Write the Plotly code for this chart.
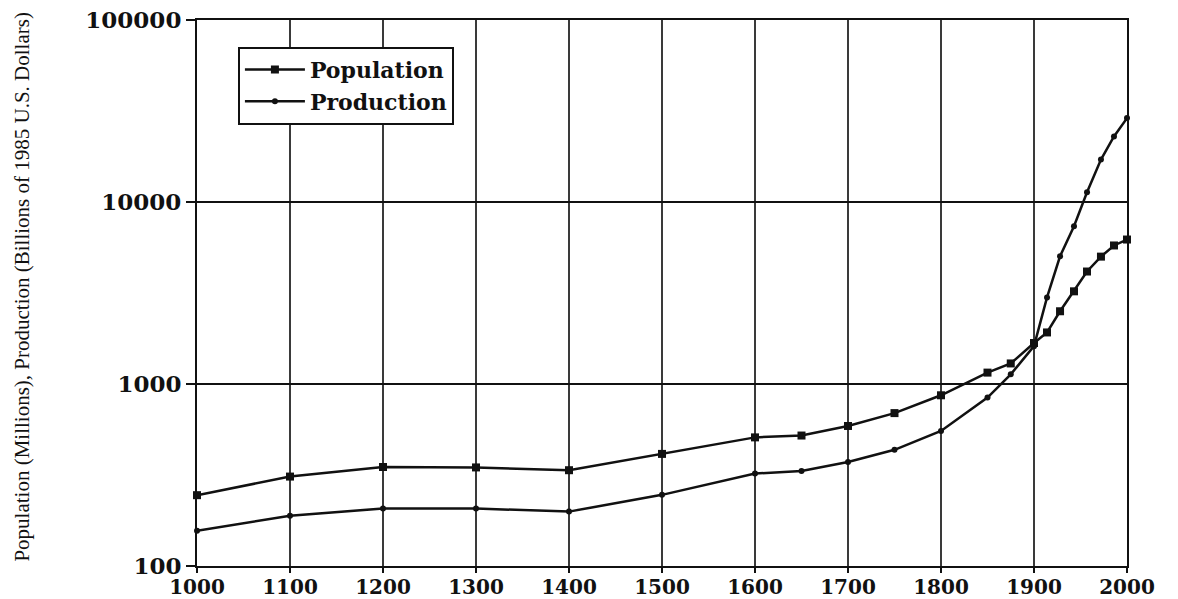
import plotly.graph_objects as go

# World population (millions) and production (billions of 1985 US dollars)
years = [1000, 1100, 1200, 1300, 1400, 1500, 1600, 1650, 1700, 1750, 1800,
         1850, 1875, 1900, 1914, 1928, 1943, 1957, 1972, 1986, 2000]
population = [245, 310, 350, 348, 336, 413, 509, 521, 588, 692, 867,
              1155, 1297, 1680, 1920, 2510, 3230, 4150, 5010, 5770, 6220]
production = [156, 189, 207, 207, 199, 246, 322, 333, 373, 435, 552,
              842, 1130, 1614, 2990, 5030, 7360, 11300, 17100, 22900, 28900]

x_ticks = list(range(1000, 2001, 100))
y_ticks = [100, 1000, 10000, 100000]
y_tick_text = ["100", "1000", "10000", "100000"]

y_title = "Population (Millions), Production (Billions of 1985 U.S. Dollars)"

fig = go.Figure()
fig.add_trace(go.Scatter(
    x=years, y=population, name="Population", mode="lines+markers",
    line=dict(color="#111", width=2.5),
    marker=dict(symbol="square", size=8, color="#111"),
    cliponaxis=False,
))
fig.add_trace(go.Scatter(
    x=years, y=production, name="Production", mode="lines+markers",
    line=dict(color="#111", width=2.5),
    marker=dict(symbol="circle", size=6, color="#111"),
    cliponaxis=False,
))

fig.update_layout(
    width=1178, height=599,
    margin=dict(l=197, r=51, t=20, b=33),
    paper_bgcolor="white", plot_bgcolor="white",
    showlegend=True,
    legend=dict(
        x=0.044, y=0.951, xanchor="left", yanchor="top",
        bgcolor="white", bordercolor="#111", borderwidth=2,
        font=dict(family="DejaVu Serif", size=22, color="#111", weight="bold"),
        tracegroupgap=0, itemwidth=60,
    ),
    xaxis=dict(
        range=[1000, 2000], tickvals=x_ticks, automargin=False,
        showgrid=True, gridcolor="#3a3a3a", gridwidth=2,
        showline=True, linecolor="#111", linewidth=2, mirror=True,
        ticks="outside", ticklen=5, tickwidth=2, tickcolor="#111",
        tickfont=dict(family="DejaVu Serif", size=20, color="#111", weight="bold"),
        ticklabelstandoff=-3,
        zeroline=False,
    ),
    yaxis=dict(
        type="log", range=[2, 5], tickvals=y_ticks, ticktext=y_tick_text,
        automargin=False,
        showgrid=True, gridcolor="#111", gridwidth=1.5,
        showline=True, linecolor="#111", linewidth=2, mirror=True,
        ticks="outside", ticklen=9, tickwidth=1.5, tickcolor="#111",
        tickfont=dict(family="DejaVu Serif", size=23, color="#111", weight="bold"),
        zeroline=False,
    ),
    annotations=[dict(
        text=y_title, xref="paper", yref="paper",
        x=-0.188, y=0.512, xanchor="center", yanchor="middle",
        textangle=-90, showarrow=False,
        font=dict(family="Liberation Serif", size=21, color="#111"),
    )],
)

fig.write_html("out.html")
